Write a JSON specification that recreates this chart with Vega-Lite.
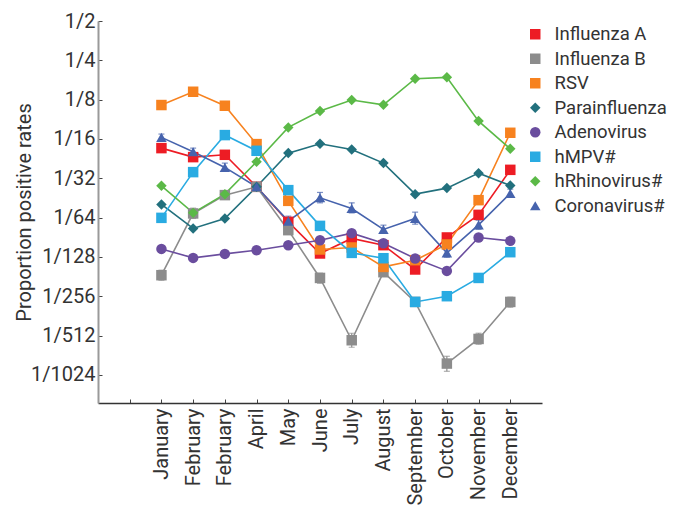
{
  "$schema": "https://vega.github.io/schema/vega-lite/v6.json",
  "width": 444,
  "height": 382,
  "autosize": {"type": "none"},
  "padding": {"left": 98, "top": 21, "right": 139, "bottom": 107},
  "background": "white",
  "config": {
    "view": {"stroke": null},
    "font": "Roboto",
    "axis": {"grid": false, "labelFont": "Roboto", "titleFont": "Roboto", "labelColor": "#333333", "titleColor": "#333333", "labelFontSize": 20, "titleFontSize": 20, "titleFontWeight": "normal"},
    "legend": {"labelFont": "Roboto", "labelFontSize": 18.5, "labelColor": "#333333", "symbolOpacity": 1}
  },
  "datasets": {
    "pts": [
      {"s":"Influenza A","m":2,"v":0.05321},{"s":"Influenza A","m":3,"v":0.0454},{"s":"Influenza A","m":4,"v":0.0473},{"s":"Influenza A","m":5,"v":0.02691},{"s":"Influenza A","m":6,"v":0.01451},{"s":"Influenza A","m":7,"v":0.00831},{"s":"Influenza A","m":8,"v":0.01083},{"s":"Influenza A","m":9,"v":0.00962},{"s":"Influenza A","m":10,"v":0.006268},{"s":"Influenza A","m":11,"v":0.01102},{"s":"Influenza A","m":12,"v":0.01641},{"s":"Influenza A","m":13,"v":0.03629},
      {"s":"Influenza B","m":2,"v":0.005667},{"s":"Influenza B","m":3,"v":0.01683},{"s":"Influenza B","m":4,"v":0.02324},{"s":"Influenza B","m":5,"v":0.02691},{"s":"Influenza B","m":6,"v":0.012536},{"s":"Influenza B","m":7,"v":0.005401},{"s":"Influenza B","m":8,"v":0.001801},{"s":"Influenza B","m":9,"v":0.005974},{"s":"Influenza B","m":10,"v":0.003539},{"s":"Influenza B","m":11,"v":0.001194},{"s":"Influenza B","m":12,"v":0.001843},{"s":"Influenza B","m":13,"v":0.003539},
      {"s":"RSV","m":2,"v":0.1137},{"s":"RSV","m":3,"v":0.1437},{"s":"RSV","m":4,"v":0.1123},{"s":"RSV","m":5,"v":0.05711},{"s":"RSV","m":6,"v":0.02101},{"s":"RSV","m":7,"v":0.008916},{"s":"RSV","m":8,"v":0.009236},{"s":"RSV","m":9,"v":0.00656},{"s":"RSV","m":10,"v":0.007386},{"s":"RSV","m":11,"v":0.009739},{"s":"RSV","m":12,"v":0.02127},{"s":"RSV","m":13,"v":0.06973},
      {"s":"Parainfluenza","m":2,"v":0.01972},{"s":"Parainfluenza","m":3,"v":0.01291},{"s":"Parainfluenza","m":4,"v":0.01541},{"s":"Parainfluenza","m":5,"v":0.02691},{"s":"Parainfluenza","m":6,"v":0.04873},{"s":"Parainfluenza","m":7,"v":0.05743},{"s":"Parainfluenza","m":8,"v":0.05201},{"s":"Parainfluenza","m":9,"v":0.04086},{"s":"Parainfluenza","m":10,"v":0.02365},{"s":"Parainfluenza","m":11,"v":0.0263},{"s":"Parainfluenza","m":12,"v":0.03424},{"s":"Parainfluenza","m":13,"v":0.02756},
      {"s":"Adenovirus","m":2,"v":0.009009},{"s":"Adenovirus","m":3,"v":0.007689},{"s":"Adenovirus","m":4,"v":0.008252},{"s":"Adenovirus","m":5,"v":0.008805},{"s":"Adenovirus","m":6,"v":0.00962},{"s":"Adenovirus","m":7,"v":0.0105},{"s":"Adenovirus","m":8,"v":0.01189},{"s":"Adenovirus","m":9,"v":0.009964},{"s":"Adenovirus","m":10,"v":0.00761},{"s":"Adenovirus","m":11,"v":0.006113},{"s":"Adenovirus","m":12,"v":0.01102},{"s":"Adenovirus","m":13,"v":0.01038},
      {"s":"hMPV#","m":2,"v":0.01557},{"s":"hMPV#","m":3,"v":0.03486},{"s":"hMPV#","m":4,"v":0.06694},{"s":"hMPV#","m":5,"v":0.05077},{"s":"hMPV#","m":6,"v":0.02538},{"s":"hMPV#","m":7,"v":0.01352},{"s":"hMPV#","m":8,"v":0.008397},{"s":"hMPV#","m":9,"v":0.007646},{"s":"hMPV#","m":10,"v":0.003539},{"s":"hMPV#","m":11,"v":0.003914},{"s":"hMPV#","m":12,"v":0.005401},{"s":"hMPV#","m":13,"v":0.008502},
      {"s":"hRhinovirus#","m":2,"v":0.02737},{"s":"hRhinovirus#","m":3,"v":0.017},{"s":"hRhinovirus#","m":4,"v":0.02365},{"s":"hRhinovirus#","m":5,"v":0.04181},{"s":"hRhinovirus#","m":6,"v":0.07669},{"s":"hRhinovirus#","m":7,"v":0.1023},{"s":"hRhinovirus#","m":8,"v":0.1241},{"s":"hRhinovirus#","m":9,"v":0.1142},{"s":"hRhinovirus#","m":10,"v":0.1807},{"s":"hRhinovirus#","m":11,"v":0.1852},{"s":"hRhinovirus#","m":12,"v":0.08566},{"s":"hRhinovirus#","m":13,"v":0.05259},
      {"s":"Coronavirus#","m":2,"v":0.0643},{"s":"Coronavirus#","m":3,"v":0.04986},{"s":"Coronavirus#","m":4,"v":0.03787},{"s":"Coronavirus#","m":5,"v":0.02691},{"s":"Coronavirus#","m":6,"v":0.01469},{"s":"Coronavirus#","m":7,"v":0.02216},{"s":"Coronavirus#","m":8,"v":0.01837},{"s":"Coronavirus#","m":9,"v":0.01269},{"s":"Coronavirus#","m":10,"v":0.01541},{"s":"Coronavirus#","m":11,"v":0.008397},{"s":"Coronavirus#","m":12,"v":0.01376},{"s":"Coronavirus#","m":13,"v":0.02395}
    ],
    "errs": [
      {"s":"Coronavirus#","m":2,"lo":0.06025,"hi":0.06817},{"s":"Coronavirus#","m":3,"lo":0.04704,"hi":0.05321},{"s":"Coronavirus#","m":4,"lo":0.03547,"hi":0.04086},{"s":"Coronavirus#","m":6,"lo":0.01345,"hi":0.01604},{"s":"Coronavirus#","m":7,"lo":0.02029,"hi":0.02437},{"s":"Coronavirus#","m":8,"lo":0.017,"hi":0.02029},{"s":"Coronavirus#","m":9,"lo":0.01189,"hi":0.01369},{"s":"Coronavirus#","m":10,"lo":0.01393,"hi":0.01722},{"s":"Coronavirus#","m":11,"lo":0.007785,"hi":0.009122},{"s":"Coronavirus#","m":12,"lo":0.01275,"hi":0.01495},{"s":"Coronavirus#","m":13,"lo":0.02244,"hi":0.02583},
      {"s":"Influenza B","m":2,"lo":0.00519,"hi":0.006189},{"s":"Influenza B","m":3,"lo":0.01541,"hi":0.01847},{"s":"Influenza B","m":7,"lo":0.00492,"hi":0.005871},{"s":"Influenza B","m":8,"lo":0.001592,"hi":0.002038},{"s":"Influenza B","m":9,"lo":0.005566,"hi":0.006412},{"s":"Influenza B","m":11,"lo":0.001042,"hi":0.001358},{"s":"Influenza B","m":12,"lo":0.001679,"hi":0.002038},{"s":"Influenza B","m":13,"lo":0.003224,"hi":0.003845}
    ]
  },
  "layer": [
    {
      "data": {"name": "pts"},
      "mark": {"type": "line", "strokeWidth": 1.6},
      "encoding": {
        "x": {"field": "m", "type": "ordinal", "scale": {"type": "point", "domain": [1,2,3,4,5,6,7,8,9,10,11,12,13], "padding": 1},
          "axis": {"title": null, "labelOverlap": false,
            "labelExpr": "['','','January','February','February','April','May','June','July','August','September','October','November','December'][datum.value]",
            "labelAngle": -90, "labelAlign": "right", "labelBaseline": "middle", "labelPadding": 9,
            "tickSize": -4, "tickColor": "#444444", "domainColor": "#333333", "domainWidth": 1.5}},
        "y": {"field": "v", "type": "quantitative", "scale": {"type": "log", "base": 2, "domain": [0.000596, 0.5], "nice": false},
          "axis": {"title": "Proportion positive rates", "titleX": -64, "labelOverlap": false, "values": [0.5,0.25,0.125,0.0625,0.03125,0.015625,0.0078125,0.00390625,0.001953125,0.0009765625],
            "labelExpr": "'1/' + round(1/datum.value)", "labelPadding": 7,
            "tickSize": -4, "tickColor": "#444444", "domainColor": "#9a9a9a", "domainWidth": 2}},
        "color": {"field": "s", "type": "nominal",
          "scale": {"domain": ["Influenza A","Influenza B","RSV","Parainfluenza","Adenovirus","hMPV#","hRhinovirus#","Coronavirus#"],
            "range": ["#ed1c24","#8c8c8c","#f7821f","#22707d","#6a4d9e","#29abe2","#5bb947","#4663ad"]},
          "legend": {"orient": "none", "legendX": 428, "legendY": 4, "title": null, "symbolSize": 100, "symbolOpacity": 1, "rowPadding": 5.5, "labelOffset": 10,
            "symbolStrokeWidth": 0,
            "encode": {"symbols": {"update": {"opacity": {"value": 1}, "fillOpacity": {"value": 1}}}}}},
        "detail": {"field": "s"}
      }
    },
    {
      "data": {"name": "errs"},
      "mark": {"type": "errorbar", "ticks": {"size": 6}, "thickness": 1.2},
      "encoding": {
        "x": {"field": "m", "type": "ordinal"},
        "y": {"field": "lo", "type": "quantitative", "title": "Proportion positive rates"},
        "y2": {"field": "hi"},
        "color": {"field": "s", "type": "nominal"}
      }
    },
    {
      "data": {"name": "pts"},
      "mark": {"type": "point", "filled": true, "opacity": 1},
      "encoding": {
        "x": {"field": "m", "type": "ordinal"},
        "y": {"field": "v", "type": "quantitative"},
        "color": {"field": "s", "type": "nominal"},
        "shape": {"field": "s", "type": "nominal",
          "scale": {"domain": ["Influenza A","Influenza B","RSV","Parainfluenza","Adenovirus","hMPV#","hRhinovirus#","Coronavirus#"],
            "range": ["square","square","square","diamond","circle","square","diamond","triangle-up"]}},
        "size": {"field": "s", "type": "nominal", "legend": null,
          "scale": {"domain": ["Influenza A","Influenza B","RSV","Parainfluenza","Adenovirus","hMPV#","hRhinovirus#","Coronavirus#"],
            "range": [110,110,110,81,121,110,81,64]}}
      }
    }
  ]
}
